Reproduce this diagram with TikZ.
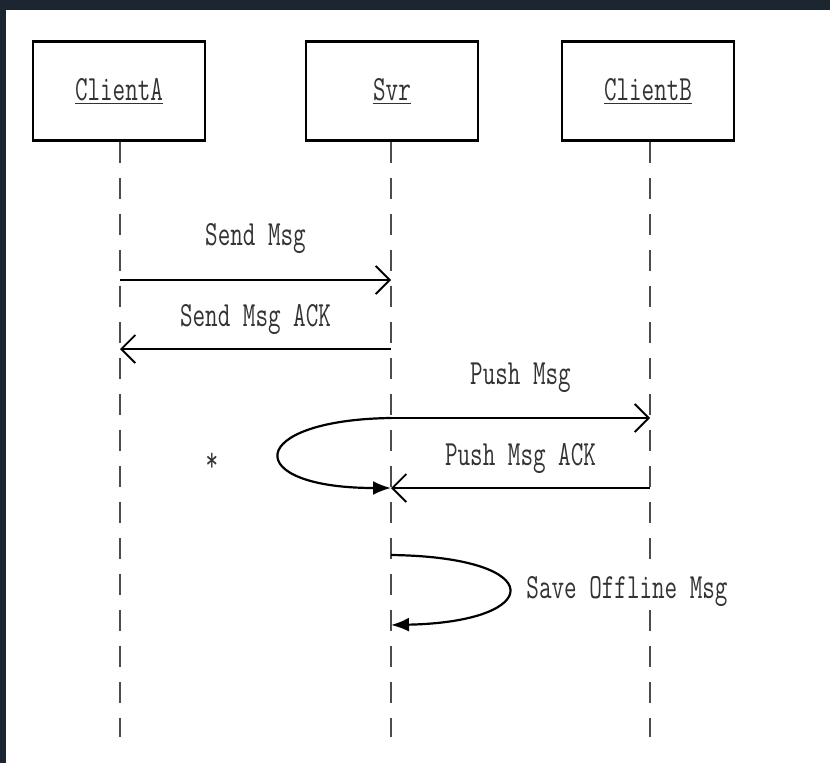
\documentclass[tikz,border=0pt]{standalone}
\usepackage{fontspec}
\usepackage{graphicx}
\usetikzlibrary{arrows.meta}
\usetikzlibrary{positioning}

\definecolor{frame}{HTML}{1C2630}
\definecolor{ink}{HTML}{333333}

% tall, narrow mono text like the original
\newcommand{\seqtxt}[1]{\scalebox{1}[1.45]{\fontsize{24.4}{28}\ttfamily #1}}

\tikzset{
    actor/.style={draw, line width=2.2pt, minimum width=172pt, minimum height=99pt, text=ink},
    life/.style={line width=2.4pt, black!70, dash pattern=on 21pt off 15pt},
    msg/.style={line width=2.2pt, -{Straight Barb[length=14pt,width=28pt,line width=1.8pt]}},
    loopmsg/.style={line width=2.2pt, -{Latex[length=18pt,width=14pt]}},
    lbl/.style={text=ink, inner sep=0pt}
}

\begin{document}
\begin{tikzpicture}[x=1pt,y=-1pt]
    \useasboundingbox (0,0) rectangle (830,763);
    \fill[frame] (0,0) rectangle (830,763);
    \fill[white] (6,10) rectangle (830,763);

    % actors
    \node[actor] (clientA) at (119,91) {\seqtxt{\underline{ClientA}}};
    \node[actor] (svr) at (392,91) {\seqtxt{\underline{Svr}}};
    \node[actor] (clientB) at (648,91) {\seqtxt{\underline{ClientB}}};

    % lifelines
    \coordinate (endA) at (120,737);
    \coordinate (endS) at (391,737);
    \coordinate (endB) at (650,737);
    \draw[life] (clientA.south -| endA) -- (endA);
    \draw[life] (svr.south -| endS) -- (endS);
    \draw[life] (clientB.south -| endB) -- (endB);

    % points on the lifelines
    \coordinate (a1) at (120,280);
    \coordinate (s1) at (391,280);
    \coordinate (a2) at (120,349);
    \coordinate (s2) at (391,349);
    \coordinate (s3) at (391,418);
    \coordinate (b3) at (650,418);
    \coordinate (s4) at (391,488);
    \coordinate (b4) at (650,488);
    \coordinate (s5) at (391,555);
    \coordinate (s6) at (391,625);

    % messages
    \draw[msg] (a1) -- (s1) node[lbl, midway, above=25pt] (sendmsg) {\seqtxt{Send Msg}};
    \draw[msg] (s2) -- (a2) node[lbl, midway, above=13pt] (sendack) {\seqtxt{Send Msg ACK}};
    \draw[msg] (s3) -- (b3) node[lbl, midway, above=24pt] (pushmsg) {\seqtxt{Push Msg}};
    \draw[msg] (b4) -- (s4) node[lbl, midway, above=13pt] (pushack) {\seqtxt{Push Msg ACK}};

    \draw[loopmsg] (s3) .. controls (245,420) and (240,488) .. (s4);
    \node[lbl] (star) at (212,462) {\seqtxt{*}};

    \draw[loopmsg] (s5) .. controls (550,557) and (545,622) .. (s6);
    \node[lbl, fill=white, inner sep=3pt] (save) at (627,592) {\seqtxt{Save Offline Msg}};
\end{tikzpicture}
\end{document}
